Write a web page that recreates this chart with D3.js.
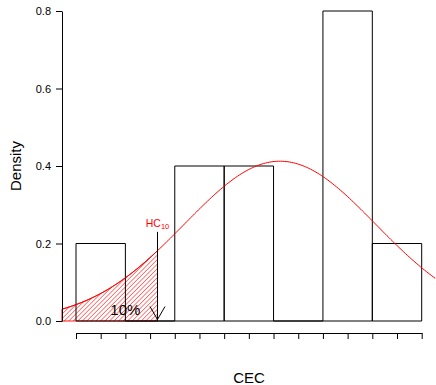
<!DOCTYPE html>
<html>
<head>
<meta charset="utf-8">
<script src="https://cdn.jsdelivr.net/npm/d3@7"></script>
<style>
  body { margin: 0; background: #fff; }
  text { font-family: "Liberation Sans", Arial, sans-serif; }
</style>
</head>
<body>
<div id="chart"></div>
<script>
// histogram bins (CEC) and densities
const binEdges = [1.0, 1.5, 2.0, 2.5, 3.0, 3.5, 4.0, 4.5];
const densities = [0.2, 0.0, 0.4, 0.4, 0.0, 0.8, 0.2];
const xTicks = [1.0, 1.25, 1.5, 1.75, 2.0, 2.25, 2.5, 2.75, 3.0, 3.25, 3.5, 3.75, 4.0, 4.25, 4.5];
const yTicks = [0.0, 0.2, 0.4, 0.6, 0.8];

// fitted normal curve
const fitMean = 3.065;
const fitSd = 0.9675;
const hcLineTop = 0.23;   // top of the HC10 marker line
const pctLabel = "10%";

const width = 436, height = 385;

const svg = d3.select("#chart").append("svg")
    .attr("width", width)
    .attr("height", height);

const x = d3.scaleLinear().domain([1.0, 4.5]).range([76, 421.7]);
const y = d3.scaleLinear().domain([0, 0.8]).range([321, 11]);

// plot region (R adds 4% on each side)
const xMin = x.invert(62), xMax = x.invert(435.5);

const dnorm = v => Math.exp(-0.5 * ((v - fitMean) / fitSd) ** 2) / (fitSd * Math.sqrt(2 * Math.PI));
const hc10 = fitMean - 1.2816 * fitSd;

// hatch pattern
const defs = svg.append("defs");
const pat = defs.append("pattern")
    .attr("id", "hatch")
    .attr("patternUnits", "userSpaceOnUse")
    .attr("width", 3.2)
    .attr("height", 3.2)
    .attr("patternTransform", "rotate(45)");
pat.append("line")
    .attr("x1", 0).attr("y1", 0)
    .attr("x2", 0).attr("y2", 3.2)
    .attr("stroke", "#ff0000")
    .attr("stroke-width", 1);

defs.append("clipPath").attr("id", "plotclip")
    .append("rect")
    .attr("x", 62).attr("y", 0)
    .attr("width", 435.5 - 62).attr("height", 334);

// hatched tail below HC10
const tailPts = d3.range(0, 101).map(i => xMin + (hc10 - xMin) * i / 100);
const tailArea = d3.area()
    .x(d => x(d))
    .y0(y(0))
    .y1(d => y(dnorm(d)));

svg.append("path")
    .datum(tailPts)
    .attr("d", tailArea)
    .attr("fill", "url(#hatch)")
    .attr("stroke", "#ff0000")
    .attr("stroke-width", 1);

// histogram bars (paths, so empty bins still show their baseline)
const bins = densities.map((d, i) => ({ x0: binEdges[i], x1: binEdges[i + 1], d: d }));
svg.selectAll(".bar")
    .data(bins)
    .enter()
    .append("path")
    .attr("class", "bar")
    .attr("d", d => `M${x(d.x0)},${y(0)}L${x(d.x0)},${y(d.d)}L${x(d.x1)},${y(d.d)}L${x(d.x1)},${y(0)}Z`)
    .attr("fill", "none")
    .attr("stroke", "#000")
    .attr("stroke-width", 1);

// normal curve
const curvePts = d3.range(0, 201).map(i => xMin + (xMax - xMin) * i / 200);
svg.append("path")
    .datum(curvePts)
    .attr("clip-path", "url(#plotclip)")
    .attr("d", d3.line().x(d => x(d)).y(d => y(dnorm(d))))
    .attr("fill", "none")
    .attr("stroke", "#ff0000")
    .attr("stroke-width", 1);

// HC10 marker line
svg.append("line")
    .attr("x1", x(hc10)).attr("x2", x(hc10))
    .attr("y1", y(0)).attr("y2", y(hcLineTop))
    .attr("stroke", "#000")
    .attr("stroke-width", 1);

// arrow head at the bottom of the marker
const headLen = 15, headAng = 30 * Math.PI / 180;
const tipX = x(hc10), tipY = y(0) - 1.5;
svg.append("path")
    .attr("d", `M${tipX - headLen * Math.sin(headAng)},${tipY - headLen * Math.cos(headAng)}L${tipX},${tipY}L${tipX + headLen * Math.sin(headAng)},${tipY - headLen * Math.cos(headAng)}`)
    .attr("fill", "none")
    .attr("stroke", "#000")
    .attr("stroke-width", 1);

// HC10 label
const hcText = svg.append("text")
    .attr("x", x(hc10))
    .attr("y", 227)
    .attr("text-anchor", "middle")
    .attr("fill", "#ff0000")
    .style("font-size", "10.5px");
hcText.append("tspan").text("HC");
hcText.append("tspan")
    .attr("dy", 2)
    .style("font-size", "7.5px")
    .text("10");

// percentage label
svg.append("text")
    .attr("x", x(1.5))
    .attr("y", 315)
    .attr("text-anchor", "middle")
    .style("font-size", "15px")
    .text(pctLabel);

// axes
const xAxis = svg.append("g")
    .attr("transform", "translate(0,333)")
    .call(d3.axisBottom(x)
        .tickValues(xTicks)
        .tickFormat("")
        .tickSizeInner(6)
        .tickSizeOuter(0));

const yAxis = svg.append("g")
    .attr("transform", "translate(62,0)")
    .call(d3.axisLeft(y)
        .tickValues(yTicks)
        .tickFormat(d3.format(".1f"))
        .tickSizeInner(6)
        .tickSizeOuter(0)
        .tickPadding(5));

[xAxis, yAxis].forEach(g => {
    g.selectAll("path, line").attr("stroke", "#000");
    g.selectAll("text")
        .attr("fill", "#000")
        .style("font-family", "'Liberation Sans', Arial, sans-serif")
        .style("font-size", "11px");
});

// axis titles
svg.append("text")
    .attr("x", 249)
    .attr("y", 383)
    .attr("text-anchor", "middle")
    .style("font-size", "15px")
    .text("CEC");

svg.append("text")
    .attr("transform", "translate(21,166) rotate(-90)")
    .attr("text-anchor", "middle")
    .style("font-size", "15px")
    .text("Density");
</script>
</body>
</html>
